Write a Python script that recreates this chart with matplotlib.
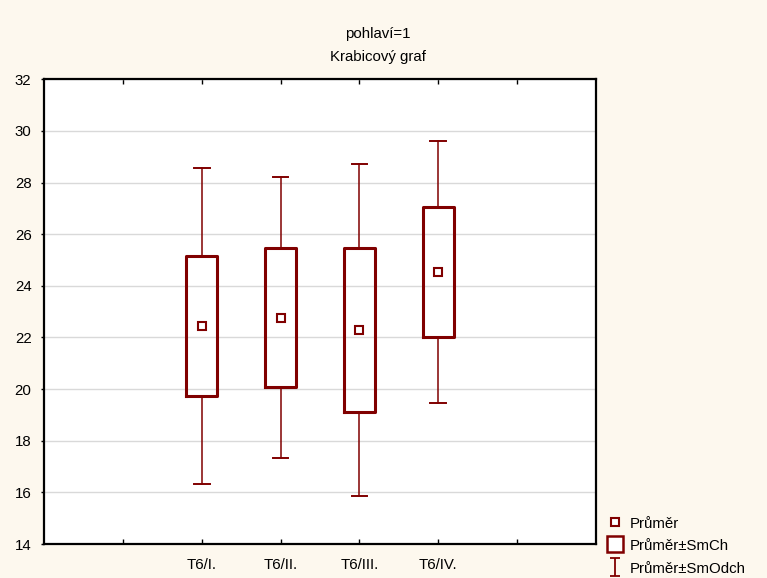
import matplotlib
matplotlib.use("Agg")
import matplotlib.pyplot as plt
from matplotlib.lines import Line2D
from matplotlib.path import Path

plt.rcParams['font.family'] = ['Liberation Sans', 'DejaVu Sans']

categories = ["T6/I.", "T6/II.", "T6/III.", "T6/IV."]
means = [22.43, 22.77, 22.30, 24.53]
box_low = [19.72, 20.09, 19.10, 22.03]      # mean - SE
box_high = [25.14, 25.48, 25.45, 27.05]     # mean + SE
whisker_low = [16.31, 17.33, 15.87, 19.46]  # mean - SD
whisker_high = [28.55, 28.23, 28.70, 29.60]  # mean + SD
y_ticks = [14, 16, 18, 20, 22, 24, 26, 28, 30, 32]

dark_red = "#800000"
bg = "#FDF8EE"
fs = 10.8

fig = plt.figure(figsize=(7.67, 5.78), dpi=100, facecolor=bg)
ax = fig.add_axes([44 / 767, 1 - 544 / 578, (596 - 44) / 767, (544 - 79.3) / 578])
ax.set_facecolor("white")

positions = list(range(2, 2 + len(categories)))
stats = []
for m, bl, bh, wl, wh, lab in zip(means, box_low, box_high, whisker_low, whisker_high, categories):
    stats.append(dict(med=m, mean=m, q1=bl, q3=bh, whislo=wl, whishi=wh, fliers=[], label=lab))

ax.bxp(stats, positions=positions, widths=0.4, capwidths=0.2, showmeans=True,
       showfliers=False,
       boxprops=dict(color=dark_red, linewidth=2.2),
       whiskerprops=dict(color=dark_red, linewidth=1.1),
       capprops=dict(color=dark_red, linewidth=1.4),
       medianprops=dict(linewidth=0),
       meanprops=dict(marker='s', markersize=5.5, markerfacecolor='white',
                      markeredgecolor=dark_red, markeredgewidth=1.5),
       zorder=3)

ax.set_xlim(0, 7)
ax.set_ylim(14, 32)
ax.set_yticks(y_ticks)
ax.set_xticks(positions)
ax.set_xticklabels(categories)
ax.set_xticks([1, 6], minor=True)

ax.yaxis.grid(True, color="#D9D9D9", linewidth=1.0, zorder=0)
ax.set_axisbelow(True)

ax.tick_params(axis='x', which='both', direction='in', top=True, bottom=True,
               length=3.5, width=1, pad=10, labelsize=fs)
ax.tick_params(axis='y', which='both', direction='out', left=True, right=False,
               length=2, width=1, pad=7, labelsize=fs)
for s in ax.spines.values():
    s.set_linewidth(1.6)
    s.set_color("black")

fig.text(0.493, 1 - 34 / 578, "pohlaví=1", ha='center', va='center', fontsize=fs)
fig.text(0.493, 1 - 57 / 578, "Krabicový graf", ha='center', va='center', fontsize=fs)

# I-beam marker for the SD legend entry
ibeam = Path([(-0.5, 1), (0.5, 1), (0, 1), (0, -1), (-0.5, -1), (0.5, -1)],
             [Path.MOVETO, Path.LINETO, Path.MOVETO, Path.LINETO, Path.MOVETO, Path.LINETO])
handles = [
    Line2D([], [], linestyle='none', marker='s', markersize=5.5, markerfacecolor='white',
           markeredgecolor=dark_red, markeredgewidth=1.5),
    Line2D([], [], linestyle='none', marker='s', markersize=12, markerfacecolor='white',
           markeredgecolor=dark_red, markeredgewidth=1.8),
    Line2D([], [], linestyle='none', marker=ibeam, markersize=13, markerfacecolor='none',
           markeredgecolor=dark_red, markeredgewidth=1.3),
]
labels = ["Průměr", "Průměr±SmCh", "Průměr±SmOdch"]
fig.legend(handles, labels, loc='upper left', bbox_to_anchor=(600 / 767, 1 - 510 / 578),
           frameon=False, fontsize=fs, handlelength=1.2, handletextpad=0.4,
           handleheight=1.0, labelspacing=0.5, borderaxespad=0)

fig.savefig("out.png", dpi=100, facecolor=bg)
